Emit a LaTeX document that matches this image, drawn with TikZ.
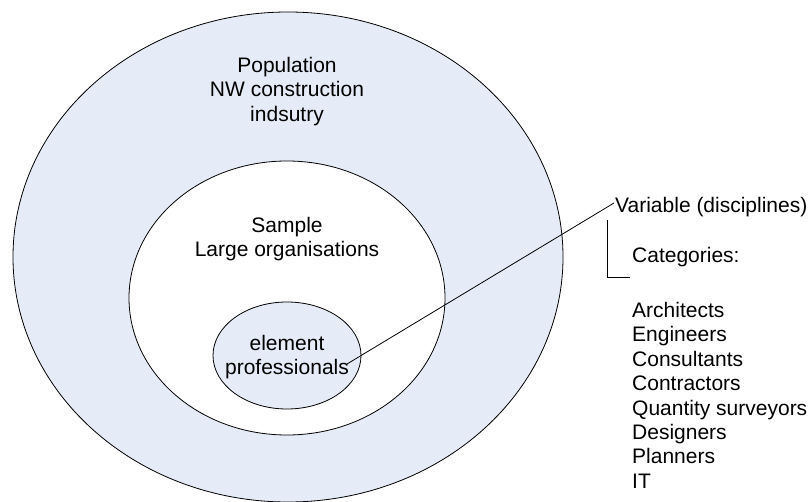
\documentclass[tikz,border=0pt]{standalone}
\usepackage{fontspec}
\setmainfont{Liberation Sans}
\usetikzlibrary{shapes.geometric}
\definecolor{popblue}{RGB}{230,236,247}
\begin{document}
\begin{tikzpicture}[x=1pt,y=-1pt,
  ring/.style={ellipse,draw=black,line width=0.8pt,inner sep=0pt},
  lbl/.style={inner sep=0pt,align=center,font=\fontsize{21}{24.4}\selectfont},
  lbll/.style={inner sep=0pt,align=left,font=\fontsize{21}{24.4}\selectfont},
  thinline/.style={draw=black,line width=0.8pt}]
\useasboundingbox (0,0) rectangle (810,502);
\node[ring,fill=popblue,minimum width=550pt,minimum height=490pt] (outer) at (288,257) {};
\node[ring,fill=white,minimum width=316pt,minimum height=274pt] (middle) at (287,298) {};
\node[ring,fill=popblue,minimum width=148pt,minimum height=107pt] (inner) at (287,355.5) {};
\node[lbl,anchor=north] (pop) at (287,57) {Population\\NW construction\\indsutry};
\node[lbl,anchor=north] (samp) at (287,217) {Sample\\Large organisations};
\node[lbl,anchor=north] (elem) at (287,335) {element\\professionals};
\node[lbll,anchor=base west] (var) at (615,213) {Variable (disciplines)};
\node[lbll,anchor=base west] (cat) at (632,263) {Categories:};
\node[lbll,anchor=north west] (list) at (632,302) {Architects\\Engineers\\Consultants\\Contractors\\Quantity surveyors\\Designers\\Planners\\IT};
\coordinate (lnA) at (347,364);
\coordinate (lnB) at (614,203);
\draw[thinline] (lnA) -- (lnB);
\coordinate (brT) at (607,220);
\coordinate (brC) at (607,277);
\coordinate (brE) at (630,277);
\draw[thinline] (brT) -- (brC) -- (brE);
\end{tikzpicture}
\end{document}
